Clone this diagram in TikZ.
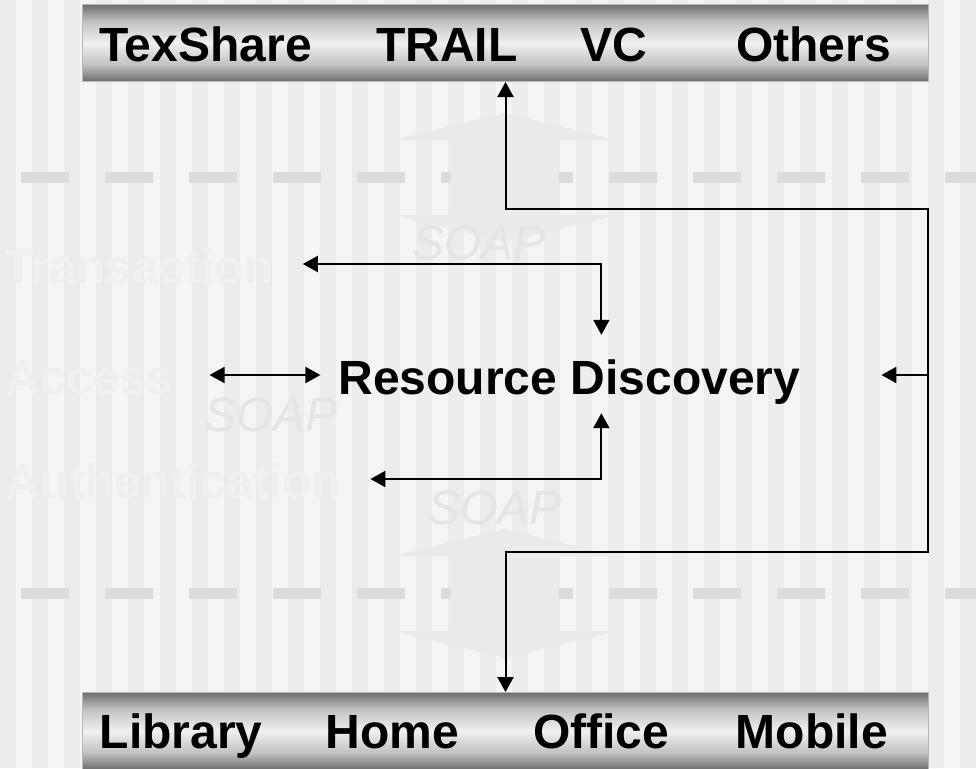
\documentclass[tikz,border=0pt]{standalone}
\usepackage{fontspec}
\setmainfont{Liberation Sans}
\usetikzlibrary{arrows.meta}
\definecolor{stripedark}{HTML}{ECECEC}
\definecolor{stripelight}{HTML}{F4F4F4}
\definecolor{dashgray}{HTML}{DCDCDC}
\definecolor{pillargray}{HTML}{EBEBEB}
\definecolor{soapgray}{HTML}{E5E5E5}
\definecolor{fadegray}{HTML}{F0F0F0}
\definecolor{bardark}{HTML}{6E6E6E}
\definecolor{barmid}{HTML}{C2C2C2}
\definecolor{barlight}{HTML}{F0F0F0}
\pgfdeclareverticalshading{barshade}{100bp}{color(0bp)=(bardark); color(25bp)=(bardark); color(36bp)=(barmid); color(50bp)=(barlight); color(64bp)=(barmid); color(75bp)=(bardark); color(100bp)=(bardark)}
\begin{document}
\begin{tikzpicture}[x=1pt, y=-1pt, >={Triangle[length=15pt,width=16pt]},
  lbl/.style={font=\bfseries\fontsize{48}{48}\selectfont, inner sep=0pt, anchor=base west, text height=38pt, text depth=0pt},
  fade/.style={lbl, text=fadegray},
  soap/.style={font=\itshape\fontsize{48}{48}\selectfont, text=soapgray, inner sep=0pt},
  bar/.style={shading=barshade, draw=gray!55, line width=1pt, minimum width=846pt, minimum height=77pt, inner sep=0pt, anchor=north west},
  link/.style={line width=2pt}]
% Background
\useasboundingbox (0,0) rectangle (976,768);
\fill[stripelight] (0,0) rectangle (976,768);
\foreach \i in {0,...,30} \fill[stripedark] (32*\i,0) rectangle ++(16,768);

% Dashed rules
\foreach \y in {177.5,593.5} \draw[dashgray, line width=11pt, dash pattern=on 48pt off 36pt] (21,\y) -- (976,\y);

% Pillars
\foreach \y in {113,529} \fill[pillargray] (505,\y) -- ++(112,27) -- ++(-58,0) -- ++(0,75) -- ++(58,0) -- ++(-112,27) -- ++(-112,-27) -- ++(58,0) -- ++(0,-75) -- ++(-58,0) -- cycle;

% SOAP marks
\node[soap] (soapA) at (479,243) {SOAP};
\node[soap] (soapB) at (271,415) {SOAP};
\node[soap] (soapC) at (495,508) {SOAP};

% Faint layers
\node[fade] (tr) at (4,283) {Transaction};
\node[fade] (ac) at (5,394) {Access};
\node[fade] (au) at (5,498) {Authentication};

% Bars
\node[bar] (top) at (82,4) {};
\node[bar] (bot) at (82,692) {};
\node[lbl] (texshare) at (99,61) {TexShare};
\node[lbl] (trail) at (376,61) {TRAIL};
\node[lbl] (vc) at (580,61) {VC};
\node[lbl] (others) at (736,61) {Others};
\node[lbl] (library) at (99.5,748) {Library};
\node[lbl] (home) at (325.5,748) {Home};
\node[lbl] (office) at (533,748) {Office};
\node[lbl] (mobile) at (735.6,748) {Mobile};

% Centre
\node[lbl] (rd) at (338.4,394) {Resource Discovery};

% Links
\coordinate (ne) at (928,209);
\coordinate (se) at (928,552);
\draw[link,<->] (top.south) |- (ne) -- (se) -| (bot.north);
\draw[link,->] (rd.east -| ne) -- ([xshift=81pt]rd.east);
\draw[link,<->] ([xshift=29pt]tr.east) -| ([xshift=32pt,yshift=21pt]rd.north);
\draw[link,<->] ([xshift=36pt]ac.east) -- ([xshift=-18pt]rd.west);
\draw[link,<->] ([xshift=29pt]au.east) -| ([xshift=32pt,yshift=-19pt]rd.south);
\end{tikzpicture}
\end{document}
